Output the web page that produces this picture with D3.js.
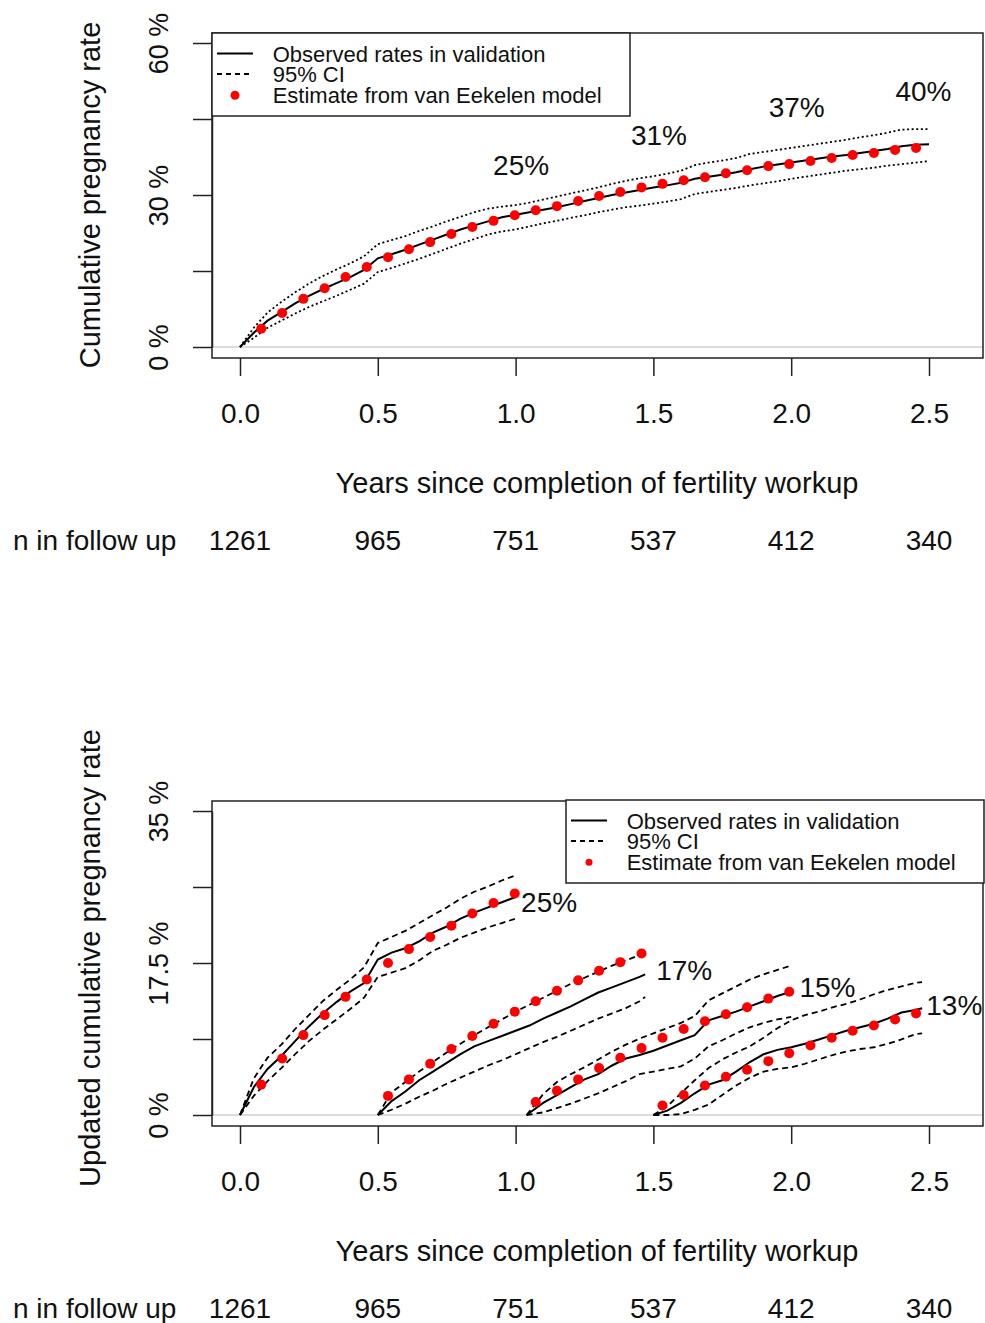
<!DOCTYPE html>
<html>
<head>
<meta charset="utf-8">
<script src="https://cdn.jsdelivr.net/npm/d3@7"></script>
<style>
  body { margin: 0; background: #fff; }
  svg { display: block; font-family: "Liberation Sans", Arial, sans-serif; }
</style>
</head>
<body>
<svg id="chart"></svg>
<script>
// model estimates are given every 4 weeks (years)
const monthTimes = [0.077, 0.153, 0.23, 0.307, 0.383, 0.46, 0.537, 0.613, 0.69, 0.767, 0.843, 0.92,
  0.997, 1.073, 1.15, 1.227, 1.303, 1.38, 1.457, 1.533, 1.61, 1.687, 1.763, 1.84, 1.917, 1.993,
  2.07, 2.147, 2.223, 2.3, 2.377, 2.453];

// ---- top panel: cumulative pregnancy rate (%)
const topModel = [3.6, 6.7, 9.5, 11.6, 13.8, 15.8, 17.7, 19.3, 20.7, 22.3, 23.7, 24.9, 26.0, 27.0,
  27.8, 28.8, 29.8, 30.6, 31.5, 32.2, 32.9, 33.5, 34.3, 34.9, 35.7, 36.1, 36.7, 37.3, 37.9, 38.3,
  38.9, 39.3];
const topTimes = [0, 0.05, 0.1, 0.15, 0.2, 0.25, 0.3, 0.35, 0.4, 0.45, 0.5, 0.55, 0.6, 0.65, 0.7,
  0.75, 0.8, 0.85, 0.9, 0.95, 1.0, 1.05, 1.1, 1.15, 1.2, 1.25, 1.3, 1.35, 1.4, 1.45, 1.5, 1.55, 1.6,
  1.65, 1.7, 1.75, 1.8, 1.85, 1.9, 1.95, 2.0, 2.05, 2.1, 2.15, 2.2, 2.25, 2.3, 2.35, 2.4, 2.45, 2.5];
const topObserved = [0, 2.8, 5.2, 6.9, 8.6, 10.1, 11.4, 12.6, 13.8, 15.2, 17.5, 18.3, 19.2, 20.2,
  21.2, 22.2, 23.2, 24.0, 24.8, 25.6, 26.1, 26.6, 27.1, 27.6, 28.2, 28.8, 29.4, 30.0, 30.5, 31.0,
  31.5, 31.9, 32.4, 33.2, 33.6, 34.0, 34.5, 35.1, 35.6, 36.0, 36.4, 36.8, 37.2, 37.6, 37.9, 38.3,
  38.7, 39.1, 39.6, 39.9, 40.0];
const topUpper = [0, 3.8, 6.8, 8.9, 10.8, 12.5, 14.0, 15.3, 16.5, 17.9, 20.3, 21.1, 21.9, 22.9, 23.8,
  24.8, 25.7, 26.6, 27.3, 27.7, 28.0, 28.5, 29.1, 29.7, 30.3, 30.9, 31.5, 32.2, 32.8, 33.3, 33.7,
  34.2, 34.8, 35.9, 36.4, 36.8, 37.3, 38.1, 38.5, 38.9, 39.3, 39.7, 40.1, 40.5, 40.9, 41.4, 41.8,
  42.3, 42.9, 43.0, 43.0];
const topLower = [0, 1.8, 3.8, 5.2, 6.6, 7.9, 9.0, 10.1, 11.3, 12.5, 14.8, 15.6, 16.5, 17.4, 18.4,
  19.4, 20.4, 21.3, 22.2, 22.8, 23.2, 23.8, 24.4, 24.9, 25.5, 26.0, 26.6, 27.1, 27.6, 27.9, 28.3,
  28.7, 29.2, 30.2, 30.6, 31.0, 31.4, 31.9, 32.3, 32.7, 33.2, 33.6, 34.0, 34.4, 34.8, 35.1, 35.4,
  35.8, 36.1, 36.4, 36.7];
const topLabelText = ['25%', '31%', '37%', '40%'];
const topLabelTimes = [1.02, 1.52, 2.02, 2.48];
const topLabelValues = [35.9, 41.8, 47.3, 50.4];

// ---- bottom panel: updated cumulative rate, restarted at 0, 0.5, 1 and 1.5 years
const aTimes = [0, 0.05, 0.1, 0.15, 0.2, 0.25, 0.3, 0.35, 0.4, 0.45, 0.5, 0.55, 0.6, 0.65, 0.7, 0.75,
  0.8, 0.85, 0.9, 0.95, 1.0];
const aObserved = [0, 3.2, 5.3, 6.8, 8.5, 10.2, 11.7, 13.0, 14.2, 15.2, 17.9, 18.7, 19.2, 20.0, 21.0,
  21.7, 22.6, 23.3, 23.9, 24.5, 25.1];
const aUpper = [0, 4.2, 6.6, 8.1, 9.9, 11.5, 13.1, 14.4, 15.6, 17.0, 19.8, 20.5, 21.2, 22.1, 23.0,
  23.9, 24.9, 25.7, 26.3, 27.0, 27.6];
const aLower = [0, 2.2, 3.9, 5.4, 7.0, 8.5, 9.8, 11.0, 12.2, 13.5, 15.9, 16.4, 16.9, 17.8, 18.9,
  19.6, 20.4, 21.0, 21.6, 22.1, 22.6];
const aModel = [3.5, 6.5, 9.2, 11.5, 13.6, 15.6, 17.5, 19.1, 20.5, 21.8, 23.2, 24.4, 25.5];

const bTimes = [0.5, 0.55, 0.6, 0.65, 0.7, 0.75, 0.8, 0.85, 0.9, 0.95, 1.0, 1.05, 1.1, 1.15, 1.2,
  1.25, 1.3, 1.35, 1.4, 1.45, 1.47];
const bObserved = [0, 1.6, 2.7, 4.0, 5.0, 6.0, 7.0, 7.9, 8.5, 9.1, 9.7, 10.3, 11.1, 11.8, 12.5, 13.3,
  14.1, 14.7, 15.3, 15.9, 16.2];
const bUpper = [0, 2.6, 3.8, 5.0, 6.1, 7.2, 8.2, 9.2, 10.1, 11.0, 11.9, 12.7, 13.5, 14.3, 15.1, 15.8,
  16.5, 17.2, 17.8, 18.4, 18.7];
const bLower = [0, 0.6, 1.3, 2.1, 2.8, 3.6, 4.3, 5.0, 5.7, 6.3, 7.0, 7.7, 8.4, 9.0, 9.7, 10.4, 11.1,
  11.7, 12.3, 13.1, 13.6];
const bModel = [2.2, 4.1, 5.9, 7.6, 9.1, 10.5, 11.9, 13.1, 14.3, 15.5, 16.6, 17.6, 18.6];

const cTimes = [1.04, 1.1, 1.15, 1.2, 1.25, 1.3, 1.35, 1.4, 1.45, 1.5, 1.55, 1.6, 1.65, 1.7, 1.75,
  1.8, 1.85, 1.9, 1.95, 2.0];
const cObserved = [0, 1.4, 2.3, 3.2, 4.1, 4.7, 5.7, 6.5, 6.9, 7.4, 8.0, 8.6, 9.2, 10.9, 11.4, 11.9,
  12.5, 13.1, 13.7, 14.2];
const cUpper = [0, 2.4, 3.8, 4.7, 5.5, 6.4, 7.3, 8.1, 8.8, 9.4, 10.0, 10.6, 11.4, 13.2, 14.0, 14.8,
  15.6, 16.2, 16.7, 17.2];
const cLower = [0, 0.3, 0.8, 1.3, 1.9, 2.5, 3.2, 3.9, 4.7, 5.0, 5.3, 5.6, 6.5, 7.9, 8.6, 9.4, 10.1,
  10.6, 11.0, 11.3];
const cModel = [1.5, 2.8, 4.1, 5.4, 6.6, 7.7, 8.9, 9.9, 10.8, 11.6, 12.4, 13.4, 14.2];

const dTimes = [1.5, 1.55, 1.6, 1.65, 1.7, 1.75, 1.8, 1.85, 1.9, 1.95, 2.0, 2.05, 2.1, 2.15, 2.2,
  2.25, 2.3, 2.35, 2.4, 2.45, 2.475];
const dObserved = [0, 0.5, 1.4, 2.5, 3.5, 4.0, 5.0, 6.1, 7.0, 7.5, 7.8, 8.2, 8.7, 9.2, 9.7, 10.1,
  10.5, 11.1, 11.8, 12.1, 12.3];
const dUpper = [0, 1.0, 2.5, 4.0, 5.4, 6.4, 7.2, 7.9, 8.9, 10.0, 10.9, 11.5, 11.9, 12.4, 12.8, 13.3,
  13.9, 14.4, 14.8, 15.2, 15.3];
const dLower = [0, 0, 0.1, 0.6, 1.2, 2.3, 3.4, 4.3, 5.0, 5.3, 5.5, 5.9, 6.4, 6.9, 7.3, 7.6, 7.8, 8.2,
  8.7, 9.3, 9.4];
const dModel = [1.1, 2.3, 3.4, 4.4, 5.2, 6.2, 7.1, 8.0, 8.9, 9.7, 10.3, 11.0, 11.7];

const bottomLabelText = ['25%', '17%', '15%', '13%'];
const bottomLabelTimes = [1.02, 1.51, 2.03, 2.49];
const bottomLabelValues = [24.5, 16.7, 14.7, 12.6];

// ---- shared
const xTicks = [0, 0.5, 1.0, 1.5, 2.0, 2.5];
const nAtRisk = [1261, 965, 751, 537, 412, 340];
const legendLabels = ['Observed rates in validation', '95% CI', 'Estimate from van Eekelen model'];

const width = 985;
const height = 1323;
const svg = d3.select('#chart').attr('width', width).attr('height', height);

const xScale = d3.scaleLinear().domain([0, 2.5]).range([240, 929]);

function toPoints(times, values) {
  return times.map((t, i) => ({ t, v: values[i] }));
}

function drawPanel(opts) {
  const g = svg.append('g').attr('transform', `translate(0,${opts.offsetY})`);
  const yScale = d3.scaleLinear().domain([0, opts.yMax]).range([347, 43]);

  const line = d3.line()
    .x((d) => xScale(d.t))
    .y((d) => yScale(d.v));

  // 0 line
  g.append('line')
    .attr('x1', 212).attr('x2', 983)
    .attr('y1', yScale(0)).attr('y2', yScale(0))
    .attr('stroke', '#dcdcdc')
    .attr('stroke-width', 2);

  // curves
  opts.series.forEach((s) => {
    [s.upper, s.lower].forEach((ci) => {
      g.append('path')
        .datum(toPoints(s.times, ci))
        .attr('fill', 'none')
        .attr('stroke', '#000')
        .attr('stroke-width', 1.8)
        .attr('stroke-dasharray', opts.ciDash)
        .attr('d', line);
    });
    g.append('path')
      .datum(toPoints(s.times, s.observed))
      .attr('fill', 'none')
      .attr('stroke', '#000')
      .attr('stroke-width', 2)
      .attr('d', line);
  });
  opts.series.forEach((s) => {
    g.selectAll(null)
      .data(toPoints(s.modelTimes, s.model))
      .join('circle')
      .attr('cx', (d) => xScale(d.t))
      .attr('cy', (d) => yScale(d.v))
      .attr('r', 5)
      .attr('fill', '#ff0000');
  });

  // percentage labels
  g.selectAll(null)
    .data(opts.labels.text)
    .join('text')
    .attr('x', (d, i) => xScale(opts.labels.times[i]))
    .attr('y', (d, i) => yScale(opts.labels.values[i]))
    .attr('dy', '0.35em')
    .attr('text-anchor', opts.labels.anchor)
    .attr('font-size', 28)
    .attr('fill', '#111')
    .text((d) => d);

  // box
  g.append('rect')
    .attr('x', 212).attr('y', 33)
    .attr('width', 771).attr('height', 325)
    .attr('fill', 'none')
    .attr('stroke', '#222')
    .attr('stroke-width', 1.5);

  // y axis
  const yAxis = g.append('g')
    .attr('transform', 'translate(212,0)')
    .call(d3.axisLeft(yScale)
      .tickValues(opts.yTicks)
      .tickSize(19)
      .tickSizeOuter(0)
      .tickFormat((d) => (opts.yLabeled.includes(d) ? `${d} %` : '')));
  yAxis.attr('font-size', 27).attr('font-family', null);
  yAxis.selectAll('line, path').attr('stroke', '#222').attr('stroke-width', 1.5);
  yAxis.selectAll('text')
    .attr('x', 0)
    .attr('dy', 0)
    .attr('transform', 'translate(-44,0) rotate(-90)')
    .attr('text-anchor', 'middle')
    .attr('fill', '#111');

  g.append('text')
    .attr('transform', `translate(100,${opts.titleY}) rotate(-90)`)
    .attr('text-anchor', 'middle')
    .attr('font-size', 29)
    .attr('fill', '#111')
    .text(opts.yTitle);

  // x axis
  const xAxis = g.append('g')
    .attr('transform', 'translate(0,358)')
    .call(d3.axisBottom(xScale)
      .tickValues(xTicks)
      .tickSize(18)
      .tickPadding(27)
      .tickSizeOuter(0)
      .tickFormat(d3.format('.1f')));
  xAxis.attr('font-size', 28).attr('font-family', null);
  xAxis.select('.domain').remove();
  xAxis.selectAll('line').attr('stroke', '#222').attr('stroke-width', 1.5);
  xAxis.selectAll('text').attr('fill', '#111');

  g.append('text')
    .attr('x', 597)
    .attr('y', 493)
    .attr('text-anchor', 'middle')
    .attr('font-size', 29)
    .attr('fill', '#111')
    .text('Years since completion of fertility workup');

  // n at risk row
  g.append('text')
    .attr('x', 13)
    .attr('y', 550)
    .attr('font-size', 28)
    .attr('fill', '#111')
    .text('n in follow up');
  g.selectAll(null)
    .data(nAtRisk)
    .join('text')
    .attr('x', (d, i) => xScale(xTicks[i]))
    .attr('y', 550)
    .attr('text-anchor', 'middle')
    .attr('font-size', 28)
    .attr('fill', '#111')
    .text((d) => d);

  // legend
  const lg = g.append('g').attr('transform', `translate(${opts.legendX},${opts.legendY})`);
  lg.append('rect')
    .attr('width', opts.legendW).attr('height', 83)
    .attr('fill', '#fff')
    .attr('stroke', '#222')
    .attr('stroke-width', 1.5);
  const rowY = [20.5, 41, 62.3];
  lg.append('line')
    .attr('x1', 5).attr('x2', 41).attr('y1', rowY[0]).attr('y2', rowY[0])
    .attr('stroke', '#000').attr('stroke-width', 1.8);
  lg.append('line')
    .attr('x1', 5).attr('x2', 41).attr('y1', rowY[1]).attr('y2', rowY[1])
    .attr('stroke', '#000').attr('stroke-width', 1.8)
    .attr('stroke-dasharray', '5,4');
  lg.append('circle')
    .attr('cx', 23).attr('cy', rowY[2]).attr('r', opts.legendDot)
    .attr('fill', '#ff0000');
  lg.selectAll(null)
    .data(legendLabels)
    .join('text')
    .attr('x', 60.7)
    .attr('y', (d, i) => rowY[i] + 8)
    .attr('font-size', 22)
    .attr('fill', '#111')
    .text((d) => d);
}

drawPanel({
  offsetY: 0,
  yMax: 60,
  yTicks: [0, 15, 30, 45, 60],
  yLabeled: [0, 30, 60],
  yTitle: 'Cumulative pregnancy rate',
  titleY: 195,
  ciDash: '2,2.6',
  series: [
    { times: topTimes, observed: topObserved, upper: topUpper, lower: topLower,
      modelTimes: monthTimes, model: topModel }
  ],
  labels: { text: topLabelText, times: topLabelTimes, values: topLabelValues, anchor: 'middle' },
  legendX: 212,
  legendY: 33,
  legendW: 418,
  legendDot: 4.5
});

drawPanel({
  offsetY: 768,
  yMax: 35,
  yTicks: [0, 8.75, 17.5, 26.25, 35],
  yLabeled: [0, 17.5, 35],
  yTitle: 'Updated cumulative pregnancy rate',
  titleY: 190,
  ciDash: '6,4',
  series: [
    { times: aTimes, observed: aObserved, upper: aUpper, lower: aLower,
      modelTimes: monthTimes.slice(0, 13), model: aModel },
    { times: bTimes, observed: bObserved, upper: bUpper, lower: bLower,
      modelTimes: monthTimes.slice(6, 19), model: bModel },
    { times: cTimes, observed: cObserved, upper: cUpper, lower: cLower,
      modelTimes: monthTimes.slice(13, 26), model: cModel },
    { times: dTimes, observed: dObserved, upper: dUpper, lower: dLower,
      modelTimes: monthTimes.slice(19, 32), model: dModel }
  ],
  labels: { text: bottomLabelText, times: bottomLabelTimes, values: bottomLabelValues, anchor: 'start' },
  legendX: 566,
  legendY: 32,
  legendW: 418,
  legendDot: 3.5
});
</script>
</body>
</html>
